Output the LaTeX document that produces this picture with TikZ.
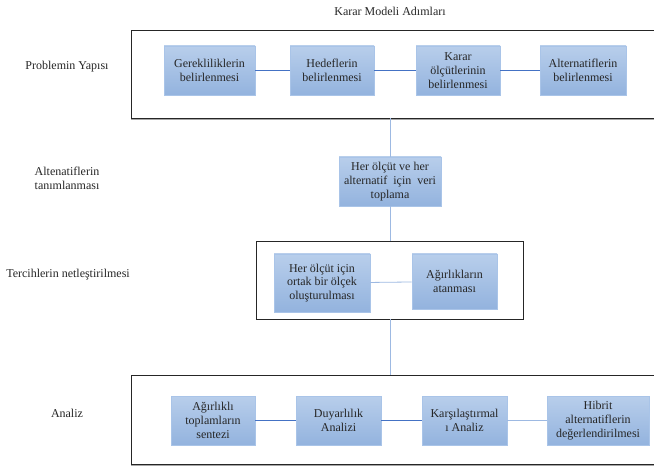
\documentclass[tikz,border=0pt]{standalone}
\usepackage{fontspec}
\setmainfont{Liberation Serif}
\usetikzlibrary{calc}

\definecolor{boxtop}{HTML}{B8CEEB}
\definecolor{boxbot}{HTML}{93B3DE}
\definecolor{boxline}{HTML}{A9C4E8}
\definecolor{darklink}{HTML}{4472C4}
\definecolor{lightlink}{HTML}{9DB9E2}

\begin{document}
\begin{tikzpicture}[x=1pt,y=-1pt,
  stepbox/.style={draw=boxline,top color=boxtop,bottom color=boxbot,
    text=black!85,font=\fontsize{12}{13.8}\selectfont,align=center,
    inner sep=0pt,line width=0.8pt},
  frame/.style={draw=black!85,line width=0.9pt,inner sep=0pt},
  rowlabel/.style={font=\fontsize{12}{14}\selectfont,align=center,text=black!85},
  link/.style={draw=darklink,line width=0.9pt},
  softlink/.style={draw=lightlink,line width=0.8pt}]
\clip (0,0) rectangle (654,468);
\fill[white] (0,0) rectangle (654,468);

\node[rowlabel] (title) at (390,11) {Karar Modeli Adımları};

% frames
\fill[black!35] (131,118.3) rectangle (670,120);
\node[frame,minimum width=539pt,minimum height=88pt] (structframe) at (400.5,74) {};
\node[frame,minimum width=267pt,minimum height=78pt] (prefframe) at (389.5,280) {};
\fill[black!35] (131,464.3) rectangle (670,466);
\node[frame,minimum width=539pt,minimum height=89pt] (analysisframe) at (400.5,419.5) {};

% row labels
\node[rowlabel] (lstruct) at (67,67) {Problemin Yapısı};
\node[rowlabel] (ldata) at (67,178) {Altenatiflerin\\tanımlanması};
\node[rowlabel] (lpref) at (68,275) {Tercihlerin netleştirilmesi};
\node[rowlabel] (lanalysis) at (67,413) {Analiz};

% problem structure
\node[stepbox,minimum width=91pt,minimum height=49pt] (req) at (209.5,70.5) {Gerekliliklerin\\belirlenmesi};
\node[stepbox,minimum width=84pt,minimum height=49pt] (goal) at (332,70.5) {Hedeflerin\\belirlenmesi};
\node[stepbox,minimum width=84pt,minimum height=49pt] (crit) at (458,70.5) {Karar\\ölçütlerinin\\belirlenmesi};
\node[stepbox,minimum width=86pt,minimum height=49pt] (alt) at (583,70.5) {Alternatiflerin\\belirlenmesi};
\draw[link] (req) -- (goal);
\draw[link] (goal) -- (crit);
\draw[link] (crit) -- (alt);

% data
\node[stepbox,minimum width=102pt,minimum height=49pt] (data) at (390,181.5) {Her ölçüt ve her\\alternatif\ \ için\ \ veri\\toplama};
\draw[softlink] (structframe.south -| data.north) -- (data.north);
\draw[softlink] (data.south) -- (prefframe.north -| data.south);

% preferences
\node[stepbox,minimum width=96pt,minimum height=58pt] (scale) at (322,283) {Her ölçüt için\\ortak bir ölçek\\oluşturulması};
\node[stepbox,minimum width=85pt,minimum height=55pt] (weight) at (454.5,281.5) {Ağırlıkların\\atanması};
\draw[softlink] (scale) -- (weight);
\draw[softlink] (prefframe.south -| data.south) -- (analysisframe.north -| data.south);

% analysis
\node[stepbox,minimum width=84pt,minimum height=49pt] (synth) at (213,420.5) {Ağırlıklı\\toplamların\\sentezi};
\node[stepbox,minimum width=85pt,minimum height=49pt] (sens) at (338.5,420.5) {Duyarlılık\\Analizi};
\node[stepbox,minimum width=85pt,minimum height=49pt] (comp) at (464.5,420.5) {Karşılaştırmal\\ı Analiz};
\node[stepbox,minimum width=102pt,minimum height=49pt] (hybrid) at (598,420.5) {Hibrit\\alternatiflerin\\değerlendirilmesi};
\draw[link] (synth) -- (sens);
\draw[link] (sens) -- (comp);
\draw[softlink] (comp) -- (hybrid);
\end{tikzpicture}
\end{document}
